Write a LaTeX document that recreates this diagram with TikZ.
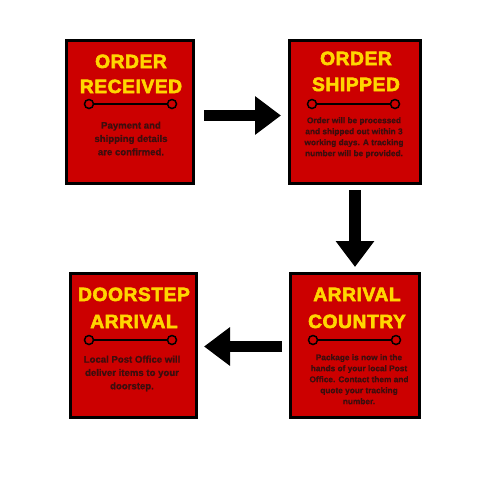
\documentclass[tikz,border=0pt]{standalone}
\usepackage{fontspec}
\setmainfont{Liberation Sans}
\newfontfamily\titlefont[LetterSpace=3,FakeBold=3]{Liberation Sans Bold}
\newfontfamily\bodyfont[FakeBold=0.6]{Liberation Sans Bold}
\usetikzlibrary{arrows.meta}
\definecolor{boxred}{RGB}{204,0,0}
\definecolor{titleyellow}{RGB}{255,214,0}
\definecolor{bodydark}{RGB}{60,14,14}
\tikzset{
  card/.style={draw=black, line width=3pt, fill=boxred, inner sep=0pt},
  cardtitle/.style={anchor=base, inner sep=0pt, text=titleyellow, font=\titlefont\fontsize{19.2}{20}\selectfont},
  bodybig/.style={anchor=north, inner sep=0pt, align=center, text=bodydark, font=\bodyfont\fontsize{9.6}{13.3}\selectfont},
  bodysmall/.style={anchor=north, inner sep=0pt, align=center, text=bodydark, font=\bodyfont\fontsize{8.3}{11}\selectfont},
  dot/.style={circle, draw=black, line width=1.5pt, fill=boxred, minimum size=9pt, inner sep=0pt},
  bar/.style={draw=black, line width=1.5pt},
  bigarrow/.style={line width=11.5pt, -{Triangle[width=37pt,length=26pt]}}
}
\begin{document}
\begin{tikzpicture}[x=1pt,y=-1pt]
\fill[white] (0,0) rectangle (480,480);
\useasboundingbox (0,0) rectangle (480,480);
% cards
\node[card, minimum width=127pt, minimum height=143pt] (b1) at (130,112) {};
\node[card, minimum width=131pt, minimum height=143pt] (b2) at (355,112) {};
\node[card, minimum width=126pt, minimum height=144pt] (b3) at (133.5,345.5) {};
\node[card, minimum width=129pt, minimum height=144pt] (b4) at (355,345.5) {};
% titles
\node[cardtitle] (t1a) at (131,68) {ORDER};
\node[cardtitle] (t1b) at (131,93) {RECEIVED};
\node[cardtitle] (t2a) at (356,65) {ORDER};
\node[cardtitle] (t2b) at (356,91) {SHIPPED};
\node[cardtitle] (t3a) at (134,301) {DOORSTEP};
\node[cardtitle] (t3b) at (134,328) {ARRIVAL};
\node[cardtitle] (t4a) at (357,301) {ARRIVAL};
\node[cardtitle] (t4b) at (357,328) {COUNTRY};
% dividers
\node[dot] (d1l) at (89,104) {};
\node[dot] (d1r) at (172,104) {};
\draw[bar] (d1l) -- (d1r);
\node[dot] (d2l) at (312,104) {};
\node[dot] (d2r) at (395,104) {};
\draw[bar] (d2l) -- (d2r);
\node[dot] (d3l) at (89,340) {};
\node[dot] (d3r) at (172,340) {};
\draw[bar] (d3l) -- (d3r);
\node[dot] (d4l) at (313,340) {};
\node[dot] (d4r) at (396,340) {};
\draw[bar] (d4l) -- (d4r);
% body texts
\node[bodybig] (x1) at (131,121.5) {Payment and\\shipping details\\are confirmed.};
\node[bodysmall] (x2) at (354,117) {Order will be processed\\and shipped out within 3\\working days. A tracking\\number will be provided.};
\node[bodybig] (x3) at (132,355.5) {Local Post Office will\\deliver items to your\\doorstep.};
\node[bodysmall] (x4) at (359,354) {Package is now in the\\hands of your local Post\\Office. Contact them and\\quote your tracking\\number.};
% arrows
\coordinate (a1s) at (204,115.5);
\coordinate (a1e) at (281,115.5);
\coordinate (a2s) at (355,190);
\coordinate (a2e) at (355,267);
\coordinate (a3s) at (282,346.5);
\coordinate (a3e) at (204,346.5);
\draw[bigarrow] (a1s) -- (a1e);
\draw[bigarrow] (a2s) -- (a2e);
\draw[bigarrow] (a3s) -- (a3e);
\end{tikzpicture}
\end{document}
